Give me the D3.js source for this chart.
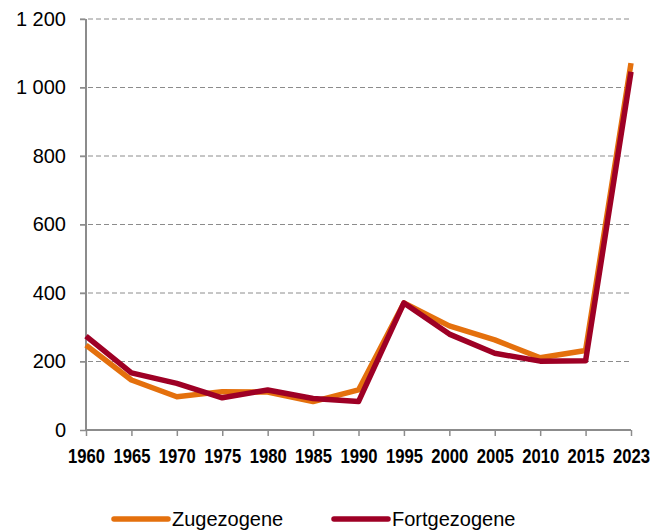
<!DOCTYPE html>
<html>
<head>
<meta charset="utf-8">
<script src="https://cdn.jsdelivr.net/npm/d3@7"></script>
<style>
  body { margin: 0; background: #fff; }
  svg text { font-family: "Liberation Sans", Arial, sans-serif; fill: #000; }
</style>
</head>
<body>
<div class="chart"></div>
<script>
// data
const years = ["1960", "1965", "1970", "1975", "1980", "1985", "1990", "1995", "2000", "2005", "2010", "2015", "2023"];
const zugezogene = [248, 146, 97, 112, 111, 83, 117, 371, 304, 263, 211, 232, 1071];
const fortgezogene = [274, 167, 136, 94, 117, 92, 83, 371, 280, 224, 201, 202, 1046];
const yTicks = [0, 200, 400, 600, 800, 1000, 1200];
const seriesNames = ["Zugezogene", "Fortgezogene"];
const colors = ["#E4700D", "#9E0025"];

const width = 667, height = 530;
const margin = { top: 19, right: 36, bottom: 100, left: 86 };
const innerW = width - margin.left - margin.right,
  innerH = height - margin.top - margin.bottom;

const svg = d3.select(".chart")
  .append("svg")
  .attr("width", width)
  .attr("height", height);

const g = svg.append("g")
  .attr("transform", `translate(${margin.left}, ${margin.top})`);

const x = d3.scalePoint()
  .domain(years)
  .range([0, innerW]);

const y = d3.scaleLinear()
  .domain([0, 1200])
  .range([innerH, 0]);

// gridlines
g.append("g")
  .selectAll("line")
  .data(yTicks.filter(d => d > 0))
  .join("line")
  .attr("x1", -6)
  .attr("x2", innerW)
  .attr("y1", d => y(d))
  .attr("y2", d => y(d))
  .attr("stroke", "#8c8c8c")
  .attr("stroke-width", 1)
  .attr("stroke-dasharray", "5,3");

// y axis
const yAxis = g.append("g")
  .call(d3.axisLeft(y).tickValues(yTicks).tickSize(6).tickPadding(14)
    .tickFormat(d => d3.format(",")(d).replace(",", " ")));
yAxis.selectAll("text").style("font-size", "20px");
yAxis.selectAll("line").attr("stroke", "#8c8c8c").attr("stroke-width", 1.5);
yAxis.select(".domain").attr("stroke", "#8c8c8c").attr("stroke-width", 2).attr("d", `M0,0V${innerH}`);

// x axis
const xAxis = g.append("g")
  .attr("transform", `translate(0, ${innerH})`)
  .call(d3.axisBottom(x).tickSize(6).tickPadding(12));
xAxis.selectAll("text")
  .style("font-weight", "bold")
  .style("font-size", "21px")
  .attr("textLength", 37)
  .attr("lengthAdjust", "spacingAndGlyphs");
xAxis.selectAll("line").attr("stroke", "#8c8c8c").attr("stroke-width", 1.5);
xAxis.select(".domain").attr("stroke", "#8c8c8c").attr("stroke-width", 2).attr("d", `M0,0H${innerW}`);

// lines
const line = d3.line()
  .x((d, i) => x(years[i]))
  .y(d => y(d));

[zugezogene, fortgezogene].forEach((s, i) => {
  g.append("path")
    .datum(s)
    .attr("fill", "none")
    .attr("stroke", colors[i])
    .attr("stroke-width", 5.5)
    .attr("stroke-linejoin", "round")
    .attr("d", line);
});

// legend
const legend = svg.append("g")
  .attr("transform", "translate(0, 519)");
const lx = [114, 334];
seriesNames.forEach((name, i) => {
  legend.append("line")
    .attr("x1", lx[i]).attr("x2", lx[i] + 54)
    .attr("y1", 0).attr("y2", 0)
    .attr("stroke", colors[i])
    .attr("stroke-width", 5.5)
    .attr("stroke-linecap", "round");
  legend.append("text")
    .attr("x", lx[i] + 58)
    .attr("y", 7)
    .style("font-size", "20px")
    .text(name);
});
</script>
</body>
</html>
